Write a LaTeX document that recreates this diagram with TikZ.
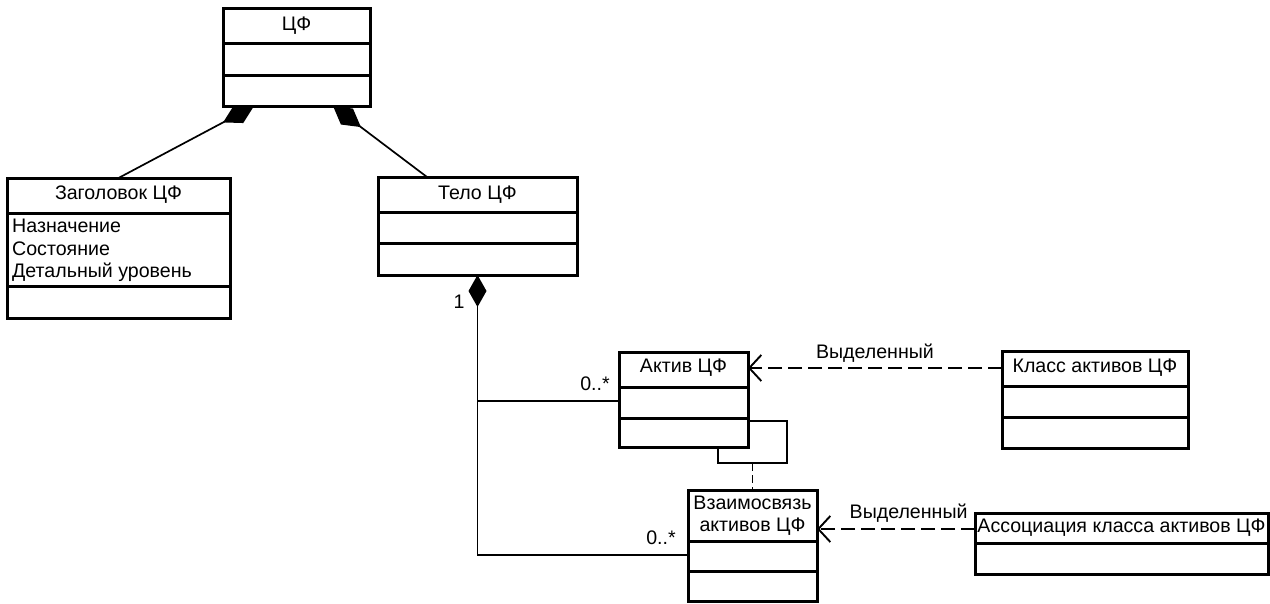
\documentclass[tikz,border=0pt]{standalone}
\usepackage{fontspec}
\setmainfont{Liberation Sans}
\usetikzlibrary{arrows.meta}

\tikzset{
  boxframe/.style={draw, line width=3pt, inner sep=0pt, outer sep=0pt, anchor=north west},
  divider/.style={line width=3pt},
  txt/.style={font=\fontsize{19.6}{23}\selectfont, inner sep=0pt},
  link/.style={line width=1.7pt},
  comp/.style={link, arrows={Diamond[length=35pt,width=20pt]-}},
  dep/.style={line width=1.7pt, dash pattern=on 14pt off 6pt,
    arrows={-Straight Barb[length=12pt,width=26pt,line width=1.9pt]}},
  loopdash/.style={line width=1.7pt, dash pattern=on 8pt off 4pt}
}

% class frame: name, left, top, right, bottom (in picture units)
\newcommand\classframe[5]{%
  \node[boxframe, minimum width={#4pt-#2pt}, minimum height={#5pt-#3pt}] (#1) at (#2,#3) {};}

\begin{document}
\begin{tikzpicture}[x=1pt,y=-1pt]
\useasboundingbox (0,0) rectangle (1270,603);

% ЦФ
\classframe{cf}{223}{8}{370}{106}
\draw[divider] (223,43) -- (370,43);
\draw[divider] (223,75) -- (370,75);
\node[txt] (cf-t) at (296.5,26) {ЦФ};

% Заголовок ЦФ
\classframe{zag}{7}{178}{230}{318}
\draw[divider] (7,213) -- (230,213);
\draw[divider] (7,286) -- (230,286);
\node[txt] (zag-t) at (118.5,195) {Заголовок ЦФ};
\node[txt, anchor=west] (zag-a1) at (12,226) {Назначение};
\node[txt, anchor=west] (zag-a2) at (12,249) {Состояние};
\node[txt, anchor=west] (zag-a3) at (12,272) {Детальный уровень};

% Тело ЦФ
\classframe{telo}{378}{177}{577}{275}
\draw[divider] (378,212) -- (577,212);
\draw[divider] (378,243) -- (577,243);
\node[txt] (telo-t) at (477.5,195) {Тело ЦФ};

% Актив ЦФ
\classframe{aktiv}{619}{352}{748}{447}
\draw[divider] (619,387) -- (748,387);
\draw[divider] (619,418) -- (748,418);
\node[txt] (aktiv-t) at (683.5,368) {Актив ЦФ};

% Класс активов ЦФ
\classframe{klass}{1002}{351}{1188}{448}
\draw[divider] (1002,386) -- (1188,386);
\draw[divider] (1002,417) -- (1188,417);
\node[txt] (klass-t) at (1095,368) {Класс активов ЦФ};

% Взаимосвязь активов ЦФ
\classframe{vz}{688}{490}{817}{601}
\draw[divider] (688,541) -- (817,541);
\draw[divider] (688,571) -- (817,571);
\node[txt] (vz-t1) at (752.5,503) {Взаимосвязь};
\node[txt] (vz-t2) at (752.5,527) {активов ЦФ};

% Ассоциация класса активов ЦФ
\classframe{assoc}{975}{513}{1268}{574}
\draw[divider] (975,543) -- (1268,543);
\node[txt] (assoc-t) at (1121.5,528) {Ассоциация класса активов ЦФ};

% compositions from ЦФ
\draw[comp] ([xshift=31pt]cf.south west) -- (zag.north);
\draw[comp] ([xshift=110pt]cf.south west) -- ([xshift=49pt]telo.north west);

% composition Тело ЦФ -> Актив / Взаимосвязь
\coordinate (br1) at (477.5,401);
\coordinate (br2) at (477.5,555);
\draw[link, arrows={Diamond[length=32pt,width=18pt]-}] (telo.south) -- (br2) -- (br2 -| vz.west);
\draw[link] (br1) -- (br1 -| aktiv.west);
\node[txt] (m1) at (459,302) {1};
\node[txt] (m2) at (595,384) {0..*};
\node[txt] (m3) at (661,538) {0..*};

% self association on Актив ЦФ with link class
\coordinate (lp1) at (787,421);
\coordinate (lp2) at (718,463);
\draw[link] (aktiv.east |- lp1) -- (lp1) |- (lp2) -- (lp2 |- aktiv.south);
\coordinate (lpm) at (752.5,463);
\draw[loopdash] (lpm) -- (vz.north);

% dependencies
\draw[dep] (klass.west |- klass-t) -- (aktiv.east |- klass-t)
  node[txt, pos=0.5, above=5pt] (d1) {Выделенный};
\draw[dep] (assoc.west |- 0,529) -- (vz.east |- 0,529)
  node[txt, pos=0.42, above=6pt] (d2) {Выделенный};
\end{tikzpicture}
\end{document}
